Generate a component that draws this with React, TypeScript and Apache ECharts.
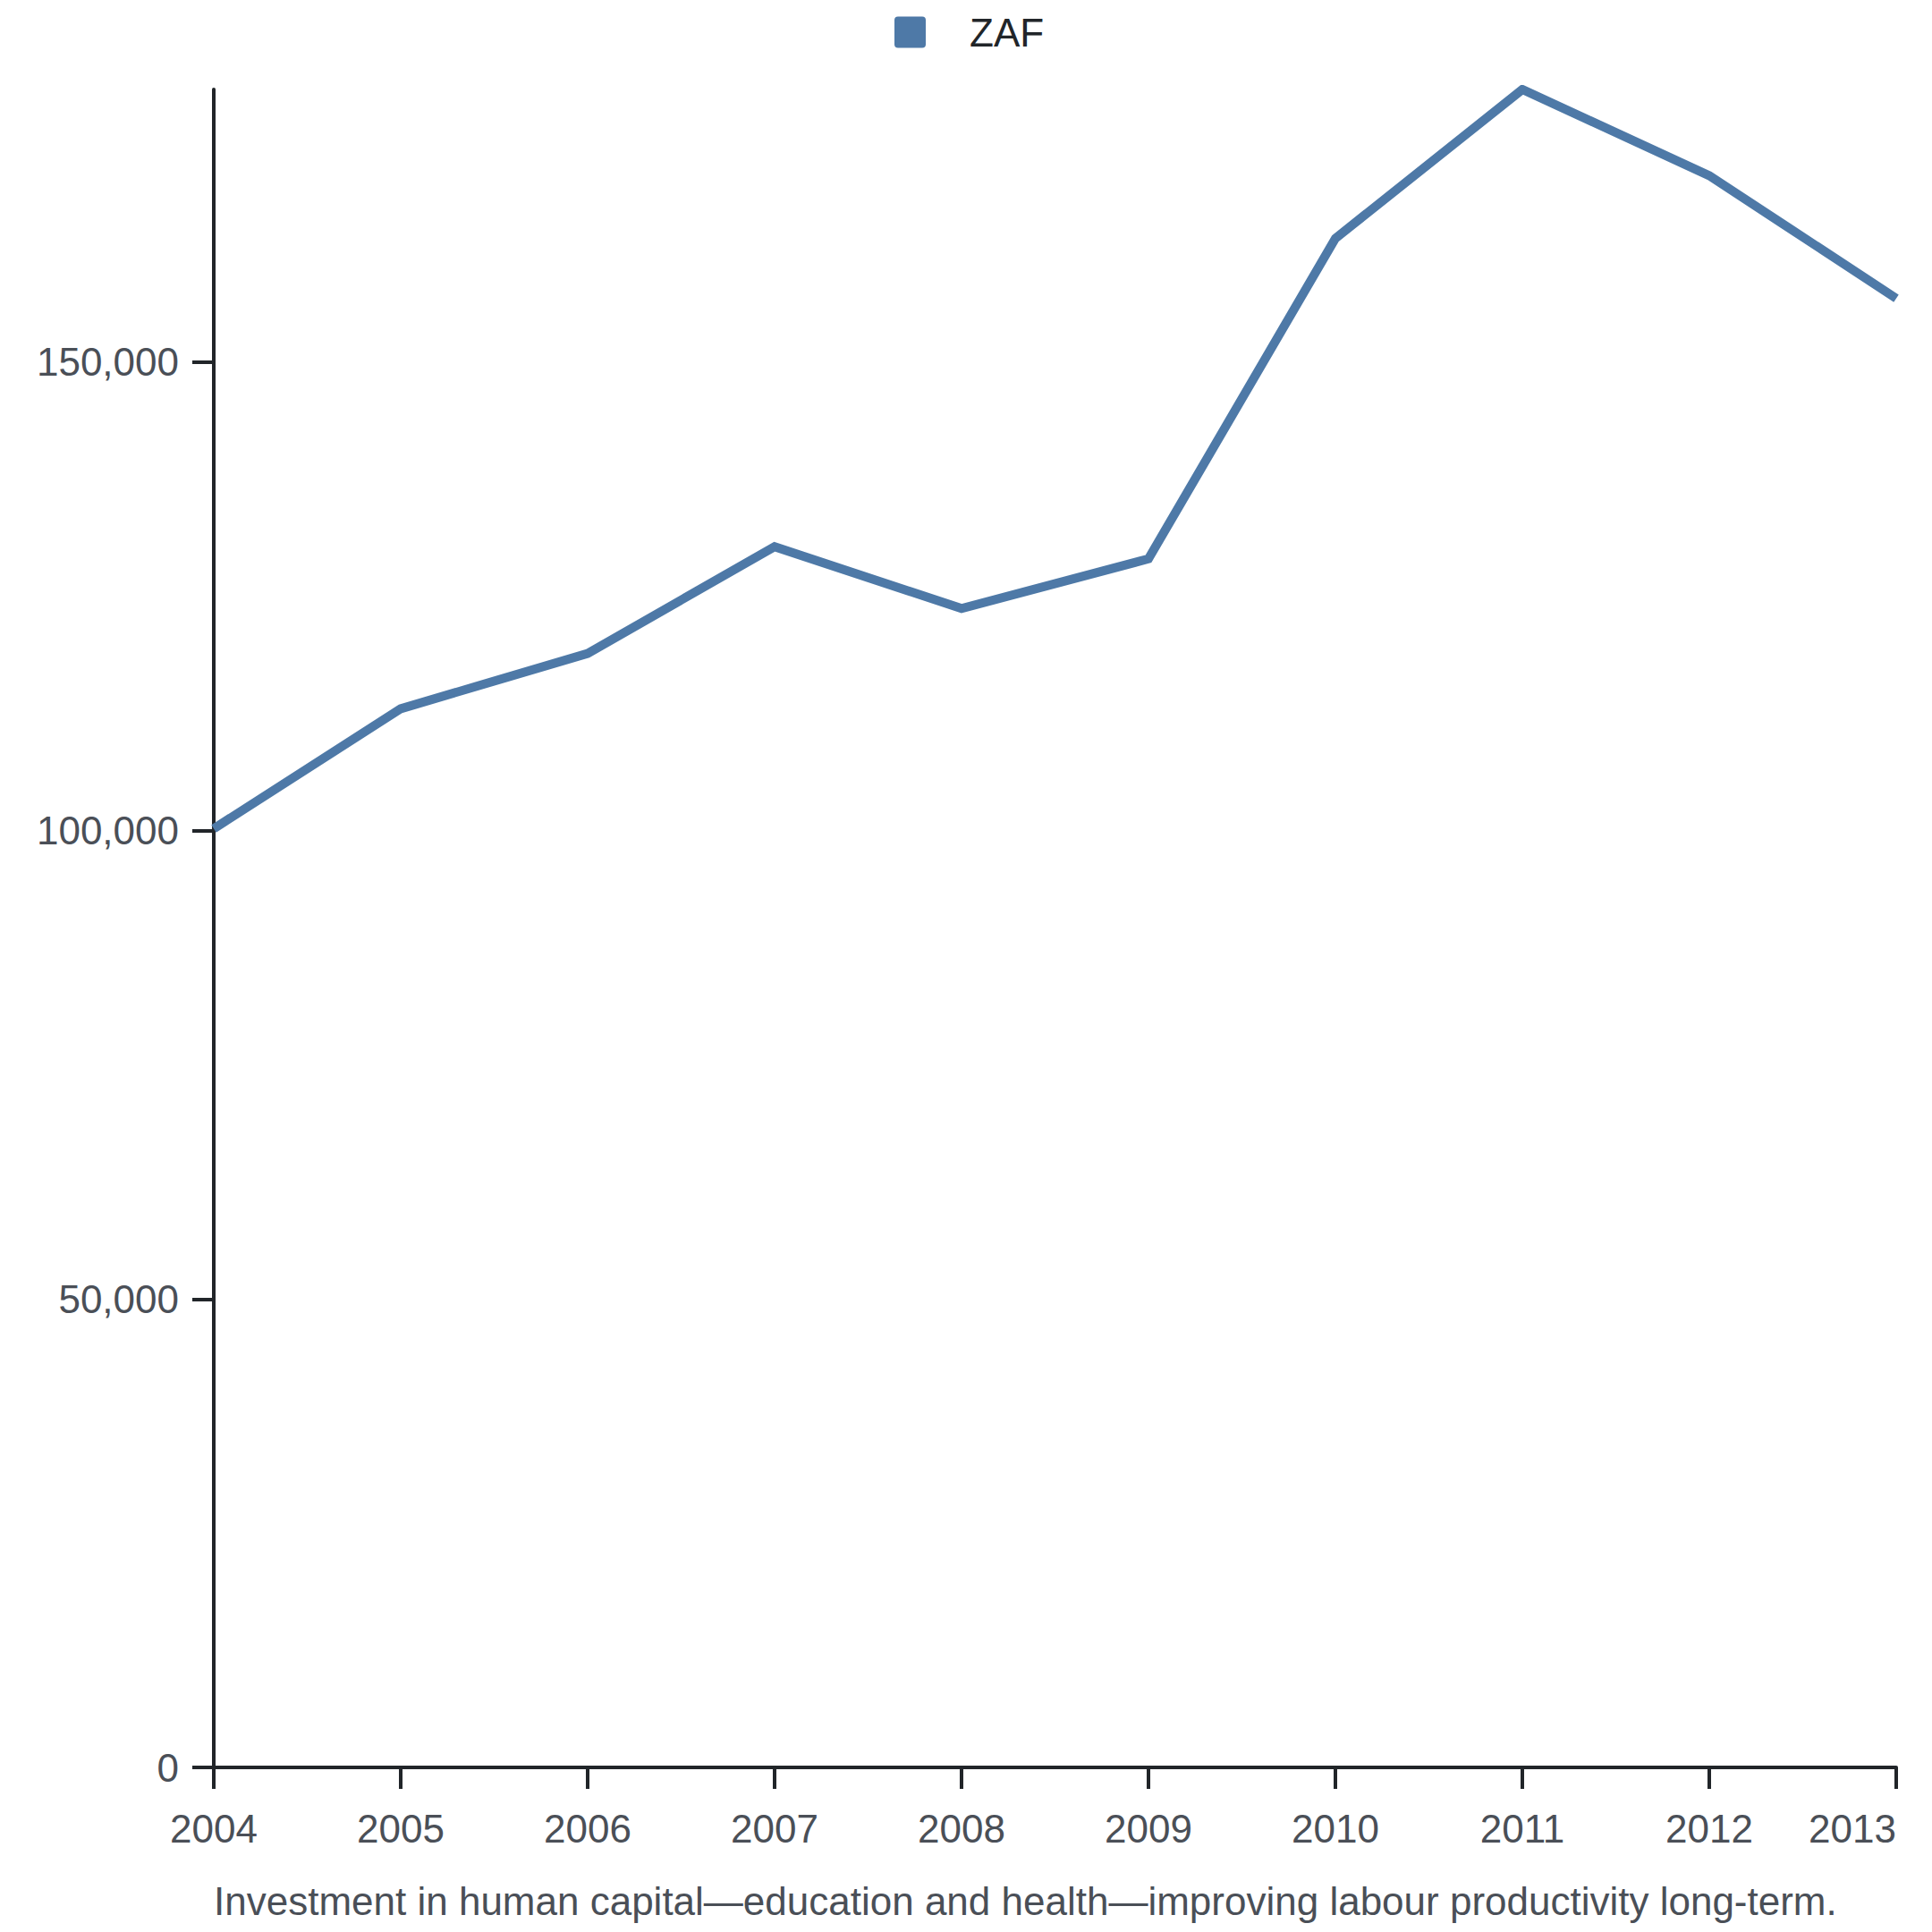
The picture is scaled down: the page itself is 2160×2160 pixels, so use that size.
import React, { useEffect, useRef } from "react";
import * as echarts from "echarts";

const years = ["2004", "2005", "2006", "2007", "2008", "2009", "2010", "2011", "2012", "2013"];
const zafValues = [100200, 113000, 118900, 130300, 123700, 129000, 163200, 179100, 169900, 156800];
const yTickValues = [0, 50000, 100000, 150000];
const seriesName = "ZAF";
const caption = "Investment in human capital\u2014education and health\u2014improving labour productivity long-term.";

const FONT = "'Liberation Sans', Arial, Helvetica, sans-serif";
const LABEL_COLOR = "#4a4f57";
const AXIS_COLOR = "#212529";
const LINE_COLOR = "#4e79a7";
const LEGEND_ICON = "path://M4,0 H31 Q35,0 35,4 V31 Q35,35 31,35 H4 Q0,35 0,31 V4 Q0,0 4,0 Z";

export default function App() {
  const ref = useRef<HTMLDivElement>(null);

  useEffect(() => {
    document.body.style.margin = "0";
    if (!ref.current) return;
    const chart = echarts.init(ref.current, undefined, { renderer: "svg" });
    const yMax = Math.max(...zafValues);
    chart.setOption({
      animation: false,
      backgroundColor: "#ffffff",
      textStyle: { fontFamily: FONT },
      legend: {
        data: [{ name: seriesName, icon: LEGEND_ICON }],
        left: 995,
        top: 9,
        itemWidth: 35,
        itemHeight: 35,
        textStyle: {
          fontFamily: FONT,
          fontSize: 44,
          color: AXIS_COLOR,
          padding: [0, 0, 0, 44],
        },
        selectedMode: false,
      },
      grid: {
        left: 239,
        right: 40,
        top: 100,
        bottom: 184,
        containLabel: false,
      },
      xAxis: {
        type: "category",
        data: years,
        boundaryGap: false,
        axisLine: { show: true, lineStyle: { color: AXIS_COLOR, width: 4 } },
        axisTick: { show: true, length: 24, lineStyle: { color: AXIS_COLOR, width: 4 } },
        axisLabel: {
          fontFamily: FONT,
          fontSize: 44,
          color: LABEL_COLOR,
          margin: 46,
          interval: 0,
          alignMaxLabel: "right",
          alignMinLabel: "center",
        },
        splitLine: { show: false },
      },
      yAxis: {
        type: "value",
        min: 0,
        max: yMax,
        interval: 50000,
        axisLine: { show: true, lineStyle: { color: AXIS_COLOR, width: 4 } },
        axisTick: {
          show: true,
          length: 24,
          lineStyle: { color: AXIS_COLOR, width: 4 },
          customValues: yTickValues,
        },
        axisLabel: {
          fontFamily: FONT,
          fontSize: 44,
          color: LABEL_COLOR,
          margin: 39,
          customValues: yTickValues,
          formatter: (v: number) => (v % 50000 === 0 ? v.toLocaleString("en-US") : ""),
        },
        splitLine: { show: false },
      },
      graphic: [
        {
          type: "text",
          left: 239,
          top: 2103,
          style: {
            text: caption,
            fontFamily: FONT,
            fontSize: 44,
            fill: LABEL_COLOR,
          },
        },
      ],
      series: [
        {
          name: seriesName,
          type: "line",
          data: zafValues,
          symbol: "none",
          showSymbol: false,
          lineStyle: { color: LINE_COLOR, width: 10, join: "miter", cap: "butt" },
          itemStyle: { color: LINE_COLOR },
          emphasis: { disabled: true },
        },
      ],
    });
    return () => chart.dispose();
  }, []);

  return <div ref={ref} style={{ width: 2160, height: 2160 }} />;
}
